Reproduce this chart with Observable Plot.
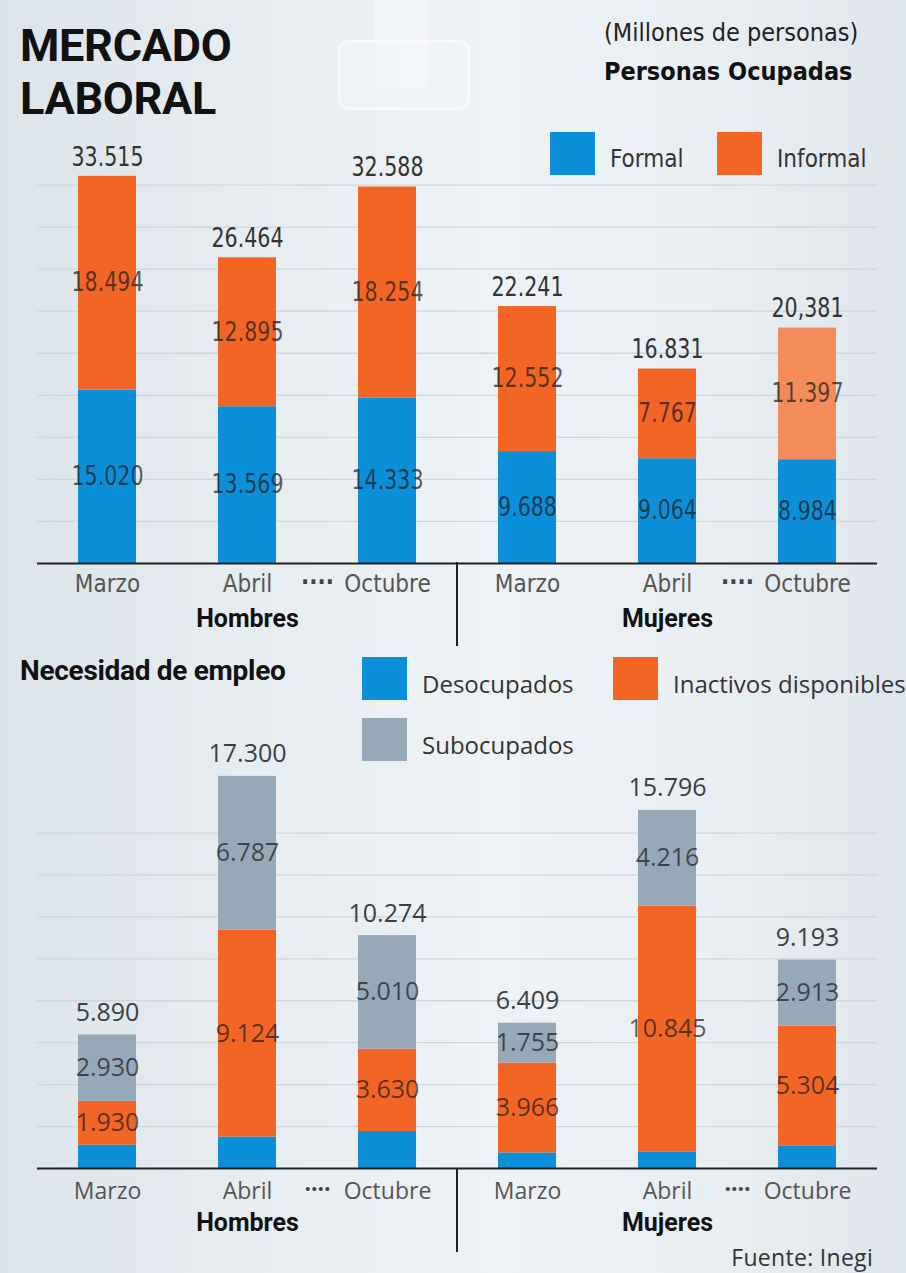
<!DOCTYPE html>
<html>
<head>
<meta charset="utf-8">
<script src="https://cdn.jsdelivr.net/npm/d3@7"></script>
<script src="https://cdn.jsdelivr.net/npm/@observablehq/plot@0.6"></script>
<style>
  html, body { margin: 0; padding: 0; }
  body { width: 906px; height: 1273px; overflow: hidden; }
  #page {
    position: relative; width: 906px; height: 1273px; overflow: hidden;
    background: linear-gradient(90deg, #dce4ea 0%, #e8edf1 30%, #eef2f5 55%, #e9eef2 80%, #dfe6eb 100%);
    font-family: "Open Sans", "Roboto", sans-serif; color: #222;
  }
  .abs { position: absolute; }
  .cond { font-family: "Liberation Sans Narrow", "DejaVu Sans Condensed", "Roboto", sans-serif; }
  .title { left: 20px; font-family: "Roboto", sans-serif; font-weight: 700; font-size: 45px; line-height: 51px; letter-spacing: -0.3px; color: #111; white-space: nowrap; }
  #unit { left: 604px; top: 18px; font-size: 25px; color: #222; }
  #sub1 { left: 604px; top: 57px; font-size: 25px; font-weight: 700; color: #111; }
  #sub2 { left: 20px; top: 654px; font-family: "Roboto", sans-serif; font-size: 28px; font-weight: 700; color: #111; letter-spacing: -0.3px; }
  .sw { position: absolute; width: 45px; height: 43px; }
  .lt { position: absolute; font-size: 24px; color: #333; line-height: 30px; }
  .divider { position: absolute; width: 2px; background: #222; }
  #src { right: 33px; top: 1242px; font-size: 23px; line-height: 30px; color: #333; letter-spacing: 0.3px; }
  .plotbox { position: absolute; left: 0; }
  .plotbox svg { background: transparent !important; overflow: visible; }
  #clip { left: 338px; top: 40px; width: 126px; height: 64px; border-radius: 10px; border: 3px solid rgba(255,255,255,0.45); background: rgba(255,255,255,0.18); }
  #clip2 { left: 375px; top: 0px; width: 52px; height: 88px; background: rgba(255,255,255,0.3); border-radius: 0 0 6px 6px; }
</style>
</head>
<body>
<div id="page">
  <div id="clip" class="abs"></div>
  <div id="clip2" class="abs"></div>
  <div class="abs title" style="top:20px">MERCADO</div>
  <div class="abs title" style="top:73px">LABORAL</div>
  <div id="unit" class="abs cond">(Millones de personas)</div>
  <div id="sub1" class="abs cond">Personas Ocupadas</div>
  <div id="sub2" class="abs">Necesidad de empleo</div>

  <div id="topPlot" class="plotbox" style="top:120px"></div>
  <div id="botPlot" class="plotbox" style="top:720px"></div>

  <div id="legTop"></div>
  <div id="legBot"></div>

  <div class="divider" style="left:456px; top:562px; height:84px"></div>
  <div class="divider" style="left:456px; top:1168px; height:84px"></div>

  <div id="src" class="abs">Fuente: Inegi</div>
</div>
<script>
// ---------------- DATA ----------------
const sexes = ["Hombres", "Mujeres"];
const months = ["Marzo", "Abril", "Octubre"];

// Personas ocupadas (millones) — order: Hombres Marzo, Abril, Octubre, Mujeres Marzo, Abril, Octubre
const formal   = [15.020, 13.569, 14.333, 9.688, 9.064, 8.984];
const informal = [18.494, 12.895, 18.254, 12.552, 7.767, 11.397];
const ocupadosTotalLabels = ["33.515", "26.464", "32.588", "22.241", "16.831", "20,381"];

// Necesidad de empleo (millones)
const desocupados = [1.030, 1.389, 1.634, 0.688, 0.735, 0.976];
const inactivos   = [1.930, 9.124, 3.630, 3.966, 10.845, 5.304];
const subocupados = [2.930, 6.787, 5.010, 1.755, 4.216, 2.913];
const necesidadTotalLabels = ["5.890", "17.300", "10.274", "6.409", "15.796", "9.193"];

// decorative background gridline values
const gridTop = [3.64, 7.28, 10.92, 14.56, 18.20, 21.84, 25.48, 29.12, 32.76];
const gridBottom = [1.85, 3.70, 5.55, 7.40, 9.25, 11.10, 12.95, 14.80];

// legend entries
const legendTop = ["Formal", "Informal"];
const legendBottom = ["Desocupados", "Inactivos disponibles", "Subocupados"];

// ---------------- STYLE ----------------
const BLUE = "#0b8fd9", ORANGE = "#f26524", ORANGE_LIGHT = "#f38c5a", GRAY = "#95a9b9";
const colorOf = {
  "Formal": BLUE, "Informal": ORANGE,
  "Desocupados": BLUE, "Inactivos disponibles": ORANGE, "Subocupados": GRAY
};
const condFont = "'Liberation Sans Narrow', 'DejaVu Sans Condensed', Roboto, sans-serif";
const openFont = "'Open Sans', Roboto, sans-serif";

const keys = [];
sexes.forEach(s => months.forEach(m => keys.push(s + "|" + m)));
const fmt = v => v.toFixed(3);

const W = 906, ML = 37, MR = 29;
const step = (W - ML - MR) / keys.length;

// ---------------- TABLES ----------------
const topRows = [];
keys.forEach((k, i) => {
  const [s, m] = k.split("|");
  topRows.push({key: k, sex: s, month: m, type: "Formal", value: formal[i]});
  topRows.push({key: k, sex: s, month: m, type: "Informal", value: informal[i]});
});
const topTotals = keys.map((k, i) => ({key: k, total: formal[i] + informal[i], label: ocupadosTotalLabels[i]}));

const botRows = [];
keys.forEach((k, i) => {
  const [s, m] = k.split("|");
  botRows.push({key: k, sex: s, month: m, type: "Desocupados", value: desocupados[i]});
  botRows.push({key: k, sex: s, month: m, type: "Inactivos disponibles", value: inactivos[i]});
  botRows.push({key: k, sex: s, month: m, type: "Subocupados", value: subocupados[i]});
});
const botTotals = keys.map((k, i) => ({key: k, total: desocupados[i] + inactivos[i] + subocupados[i], label: necesidadTotalLabels[i]}));

const fillTop = d => (d.type === "Informal" && d.sex === "Mujeres" && d.month === "Octubre") ? ORANGE_LIGHT : colorOf[d.type];
const fillBot = d => colorOf[d.type];

function commonX() {
  return {domain: keys, paddingInner: 0.585, paddingOuter: 0.2925, axis: null};
}

// ---------------- TOP PLOT ----------------
const topPlot = Plot.plot({
  width: W, height: 530,
  marginLeft: ML, marginRight: MR, marginTop: 4, marginBottom: 87,
  style: {background: "transparent", fontFamily: condFont, overflow: "visible"},
  x: commonX(),
  y: {domain: [0, 38], axis: null},
  color: {type: "identity"},
  marks: [
    Plot.ruleY(gridTop, {stroke: "#cfd6dc", strokeWidth: 1.3}),
    Plot.barY(topRows, {x: "key", y: "value", z: "type", fill: fillTop}),
    Plot.text(topRows, Plot.stackY({x: "key", y: "value", z: "type", text: d => fmt(d.value),
      fill: "#1c1c1c", fillOpacity: 0.72, fontSize: 26, lineAnchor: "middle"})),
    Plot.text(topTotals, {x: "key", y: "total", text: "label", dy: -19, lineAnchor: "middle",
      fill: "#333", fontSize: 26}),
    Plot.ruleY([0], {stroke: "#222", strokeWidth: 2}),
    Plot.text(keys, {x: d => d, text: d => d.split("|")[1], frameAnchor: "bottom", dy: 21,
      lineAnchor: "middle", fill: "#555", fontSize: 24}),
    Plot.text(sexes, {x: s => s + "|Octubre", text: () => "····", frameAnchor: "bottom", dx: -step / 2, dy: 19,
      lineAnchor: "middle", fill: "#444", fontSize: 24, fontWeight: 700}),
    Plot.text(sexes, {x: s => s + "|Abril", text: s => s, frameAnchor: "bottom", dy: 55,
      lineAnchor: "middle", fill: "#111", fontSize: 25, fontWeight: 700, fontFamily: "Roboto, sans-serif"})
  ]
});
document.getElementById("topPlot").appendChild(topPlot);

// narrow the number labels of the top panel (condensed typeface look)
topPlot.querySelectorAll("text").forEach(t => {
  if (/^[\d.,]+$/.test(t.textContent.trim())) {
    const w = t.getComputedTextLength();
    t.setAttribute("textLength", (w * 0.88).toFixed(1));
    t.setAttribute("lengthAdjust", "spacingAndGlyphs");
  }
});

// ---------------- BOTTOM PLOT ----------------
const botPlot = Plot.plot({
  width: W, height: 540,
  marginLeft: ML, marginRight: MR, marginTop: 6, marginBottom: 92,
  style: {background: "transparent", fontFamily: openFont, overflow: "visible"},
  x: commonX(),
  y: {domain: [0, 19.5], axis: null},
  color: {type: "identity"},
  marks: [
    Plot.ruleY(gridBottom, {stroke: "#cfd6dc", strokeWidth: 1.3}),
    Plot.barY(botRows, {x: "key", y: "value", z: "type", fill: fillBot}),
    Plot.text(botRows, Plot.stackY({x: "key", y: "value", z: "type",
      text: d => d.type === "Desocupados" ? null : fmt(d.value),
      fill: "#1c1c1c", fillOpacity: 0.72, fontSize: 25, lineAnchor: "middle"})),
    Plot.text(botTotals, {x: "key", y: "total", text: "label", dy: -22, lineAnchor: "middle",
      fill: "#3a3f44", fontSize: 25}),
    Plot.ruleY([0], {stroke: "#222", strokeWidth: 2}),
    Plot.text(keys, {x: d => d, text: d => d.split("|")[1], frameAnchor: "bottom", dy: 23,
      lineAnchor: "middle", fill: "#555", fontSize: 23}),
    Plot.text(sexes, {x: s => s + "|Octubre", text: () => "····", frameAnchor: "bottom", dx: -step / 2, dy: 21,
      lineAnchor: "middle", fill: "#444", fontSize: 23, fontWeight: 700}),
    Plot.text(sexes, {x: s => s + "|Abril", text: s => s, frameAnchor: "bottom", dy: 54,
      lineAnchor: "middle", fill: "#111", fontSize: 25, fontWeight: 700, fontFamily: "Roboto, sans-serif"})
  ]
});
document.getElementById("botPlot").appendChild(botPlot);

// ---------------- LEGENDS ----------------
function addLegend(containerId, items, positions, font) {
  const c = document.getElementById(containerId);
  items.forEach((name, i) => {
    const p = positions[i];
    const sw = document.createElement("div");
    sw.className = "sw";
    sw.style.left = p[0] + "px"; sw.style.top = p[1] + "px";
    sw.style.background = colorOf[name];
    c.appendChild(sw);
    const t = document.createElement("div");
    t.className = "lt";
    t.style.left = (p[0] + 60) + "px"; t.style.top = (p[1] + 12) + "px";
    t.style.fontFamily = font;
    t.textContent = name;
    c.appendChild(t);
  });
}
addLegend("legTop", legendTop, [[550, 132], [717, 132]], condFont);
addLegend("legBot", legendBottom, [[362, 657], [613, 657], [362, 718]], openFont);
</script>
</body>
</html>
